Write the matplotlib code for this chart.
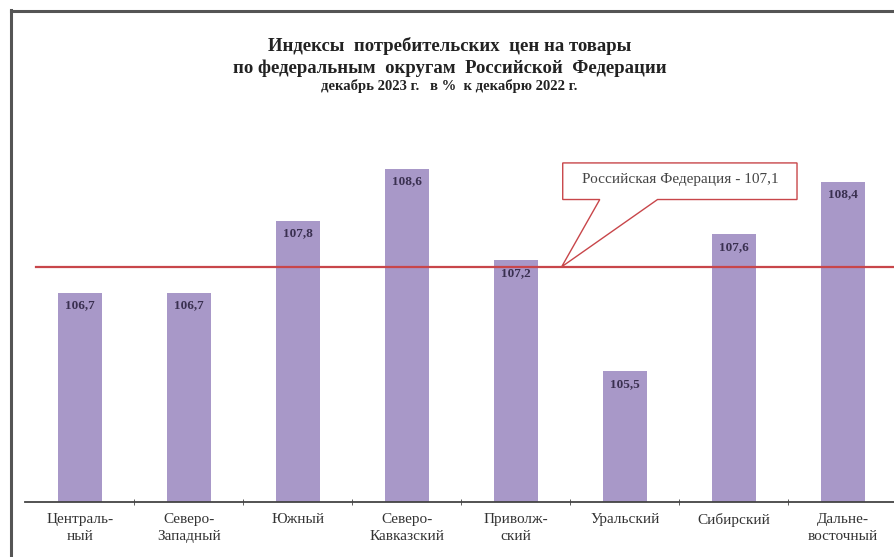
import numpy as np
import matplotlib.pyplot as plt
from matplotlib.patches import Polygon
from matplotlib.lines import Line2D

districts = ['Централь-\nный', 'Северо-\nЗападный', 'Южный', 'Северо-\nКавказский',
             'Приволж-\nский', 'Уральский', 'Сибирский', 'Дальне-\nвосточный']
cpi = [106.7, 106.7, 107.8, 108.6, 107.2, 105.5, 107.6, 108.4]
rf_value = 107.1
rf_label = 'Российская Федерация - 107,1'
title_lines = ['Индексы  потребительских  цен на товары',
               'по федеральным  округам  Российской  Федерации',
               'декабрь 2023 г.   в %  к декабрю 2022 г.']

plt.rcParams['font.family'] = ['Liberation Serif', 'DejaVu Serif']
bar_color = '#a898c8'
red = '#c8464a'

fig = plt.figure(figsize=(8.94, 5.57), dpi=100)
ax = fig.add_axes([0.0285, 0.0987, 0.9715, 0.7038])

x = np.arange(len(cpi))
ax.bar(x, cpi, width=0.4, color=bar_color, bottom=0)
ax.set_ylim(103.5, 109.5)
ax.set_xlim(-0.5, 7.47)

for xi, v in zip(x, cpi):
    ax.text(xi, v - 0.1, f'{v:.1f}'.replace('.', ','), ha='center', va='top',
            fontsize=9.5, fontweight='bold', color='#3a3050')

# line for Russia overall
ax.axhline(rf_value, xmin=0.012, xmax=1.0, color=red, lw=1.6)

# callout
bx0, bx1 = 4.43, 6.58
by0, by1 = 108.13, 108.69
ax.add_patch(Polygon([[bx0, by0], [bx0, by1], [bx1, by1], [bx1, by0],
                      [5.30, by0], [4.42, rf_value], [4.77, by0]],
                     closed=True, facecolor='white', edgecolor=red, lw=1.0, zorder=5))
ax.text((bx0 + bx1) / 2, (by0 + by1) / 2 + 0.03, rf_label, ha='center', va='center',
        fontsize=11, color='#444444', zorder=6)

for s in ['top', 'right', 'left']:
    ax.spines[s].set_visible(False)
ax.spines['bottom'].set_color('#444444')
ax.spines['bottom'].set_linewidth(1.3)
ax.set_yticks([])
ax.set_xticks(x)
ax.set_xticklabels(districts, fontsize=11, color='#333333', linespacing=1.35)
ax.tick_params(axis='x', which='major', length=0, pad=8)
ax.set_xticks(x[:-1] + 0.5, minor=True)
ax.tick_params(axis='x', which='minor', length=4, direction='inout', color='#444444')

fig.text(0.503, 0.917, title_lines[0], ha='center', va='center', fontsize=13.5, fontweight='bold', color='#222222')
fig.text(0.503, 0.878, title_lines[1], ha='center', va='center', fontsize=13.5, fontweight='bold', color='#222222')
fig.text(0.503, 0.845, title_lines[2], ha='center', va='center', fontsize=10.5, fontweight='bold', color='#222222')

# outer frame (left and top)
fig.add_artist(Line2D([11 / 894, 11 / 894], [0, 1 - 10 / 557], color='#555555', lw=2.2))
fig.add_artist(Line2D([11 / 894, 1], [1 - 11 / 557, 1 - 11 / 557], color='#555555', lw=2.2))

fig.savefig('out.png', dpi=100)
